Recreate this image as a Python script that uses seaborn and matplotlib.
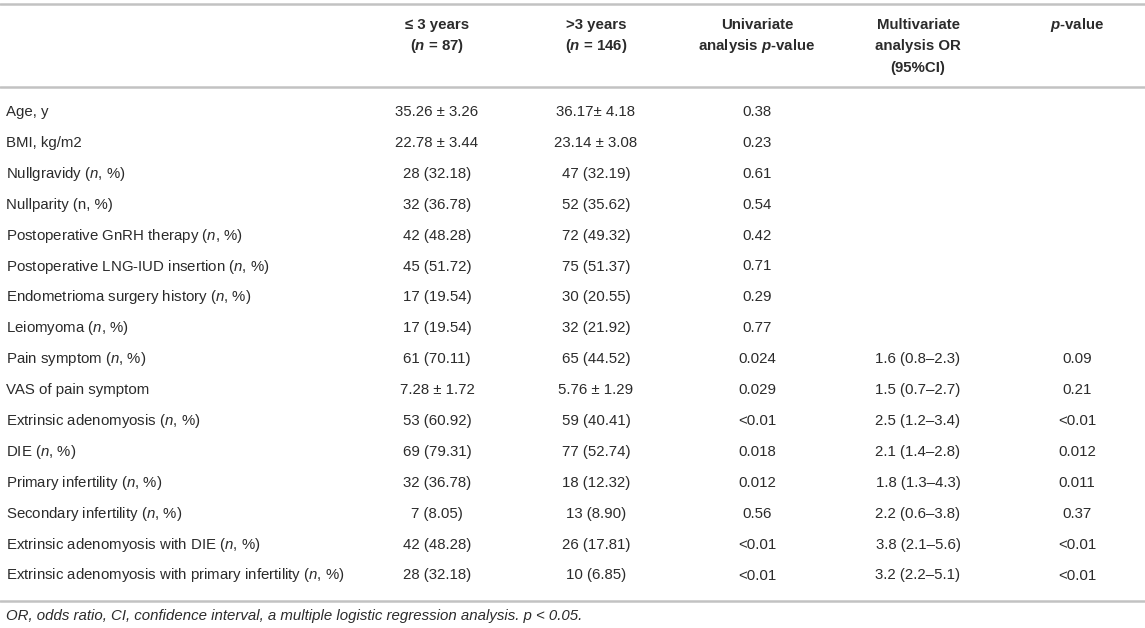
import matplotlib
matplotlib.use("Agg")
import matplotlib.pyplot as plt
import pandas as pd
import seaborn as sns

# Table contents
row_labels = [
    "Age, y",
    "BMI, kg/m2",
    "Nullgravidy ($n$, %)",
    "Nullparity (n, %)",
    "Postoperative GnRH therapy ($n$, %)",
    "Postoperative LNG-IUD insertion ($n$, %)",
    "Endometrioma surgery history ($n$, %)",
    "Leiomyoma ($n$, %)",
    "Pain symptom ($n$, %)",
    "VAS of pain symptom",
    "Extrinsic adenomyosis ($n$, %)",
    "DIE ($n$, %)",
    "Primary infertility ($n$, %)",
    "Secondary infertility ($n$, %)",
    "Extrinsic adenomyosis with DIE ($n$, %)",
    "Extrinsic adenomyosis with primary infertility ($n$, %)",
]
le3_years = [
    "35.26 ± 3.26", "22.78 ± 3.44", "28 (32.18)", "32 (36.78)", "42 (48.28)",
    "45 (51.72)", "17 (19.54)", "17 (19.54)", "61 (70.11)", "7.28 ± 1.72",
    "53 (60.92)", "69 (79.31)", "32 (36.78)", "7 (8.05)", "42 (48.28)", "28 (32.18)",
]
gt3_years = [
    "36.17± 4.18", "23.14 ± 3.08", "47 (32.19)", "52 (35.62)", "72 (49.32)",
    "75 (51.37)", "30 (20.55)", "32 (21.92)", "65 (44.52)", "5.76 ± 1.29",
    "59 (40.41)", "77 (52.74)", "18 (12.32)", "13 (8.90)", "26 (17.81)", "10 (6.85)",
]
uni_p = [
    "0.38", "0.23", "0.61", "0.54", "0.42", "0.71", "0.29", "0.77",
    "0.024", "0.029", "<0.01", "0.018", "0.012", "0.56", "<0.01", "<0.01",
]
multi_or = [
    "", "", "", "", "", "", "", "",
    "1.6 (0.8–2.3)", "1.5 (0.7–2.7)", "2.5 (1.2–3.4)", "2.1 (1.4–2.8)",
    "1.8 (1.3–4.3)", "2.2 (0.6–3.8)", "3.8 (2.1–5.6)", "3.2 (2.2–5.1)",
]
multi_p = [
    "", "", "", "", "", "", "", "",
    "0.09", "0.21", "<0.01", "0.012", "0.011", "0.37", "<0.01", "<0.01",
]
headers = [
    ["≤ 3 years", r"($\mathbfit{n}$ = 87)"],
    [">3 years", r"($\mathbfit{n}$ = 146)"],
    ["Univariate", r"analysis $\mathbfit{p}$-value"],
    ["Multivariate", "analysis OR", "(95%CI)"],
    [r"$\mathbfit{p}$-value"],
]
footnote = "OR, odds ratio, CI, confidence interval, a multiple logistic regression analysis. p < 0.05."

table = pd.DataFrame({
    "label": row_labels,
    "le3": le3_years,
    "gt3": gt3_years,
    "uni_p": uni_p,
    "multi_or": multi_or,
    "multi_p": multi_p,
})

sns.set_theme(style="white")
plt.rcParams["font.family"] = ["Liberation Sans", "DejaVu Sans"]
plt.rcParams["mathtext.fontset"] = "custom"
plt.rcParams["mathtext.rm"] = "Liberation Sans"
plt.rcParams["mathtext.it"] = "Liberation Sans:italic"
plt.rcParams["mathtext.bf"] = "Liberation Sans:bold"
plt.rcParams["mathtext.bfit"] = "Liberation Sans:bold:italic"

W, H = 1145, 628
fig = plt.figure(figsize=(W / 100, H / 100), dpi=100)
ax = fig.add_axes([0, 0, 1, 1])
ax.set_xlim(0, W)
ax.set_ylim(H, 0)
ax.axis("off")

text_color = "#2b2b2b"
rule_color = "#c2c2c2"
fs = 10.8

col_x = [437, 596, 757, 918, 1077]
value_cols = ["le3", "gt3", "uni_p", "multi_or", "multi_p"]

# rules
for y in [4, 87, 601]:
    ax.axhline(y, color=rule_color, lw=1.8)

# header
for x, lines in zip(col_x, headers):
    for i, line in enumerate(lines):
        ax.text(x, 25 + i * 21.3, line, ha="center", va="center",
                fontsize=fs, fontweight="bold", color=text_color)

# body rows
row_y0, row_dy = 112, 30.9
for i, row in table.iterrows():
    y = row_y0 + i * row_dy
    ax.text(6, y, row["label"], ha="left", va="center", fontsize=fs, color=text_color)
    for x, col in zip(col_x, value_cols):
        if row[col]:
            ax.text(x, y, row[col], ha="center", va="center", fontsize=fs, color=text_color)

ax.text(6, 616, footnote, ha="left", va="center", fontsize=fs,
        fontstyle="italic", color=text_color)

fig.savefig("out.png", dpi=100)
